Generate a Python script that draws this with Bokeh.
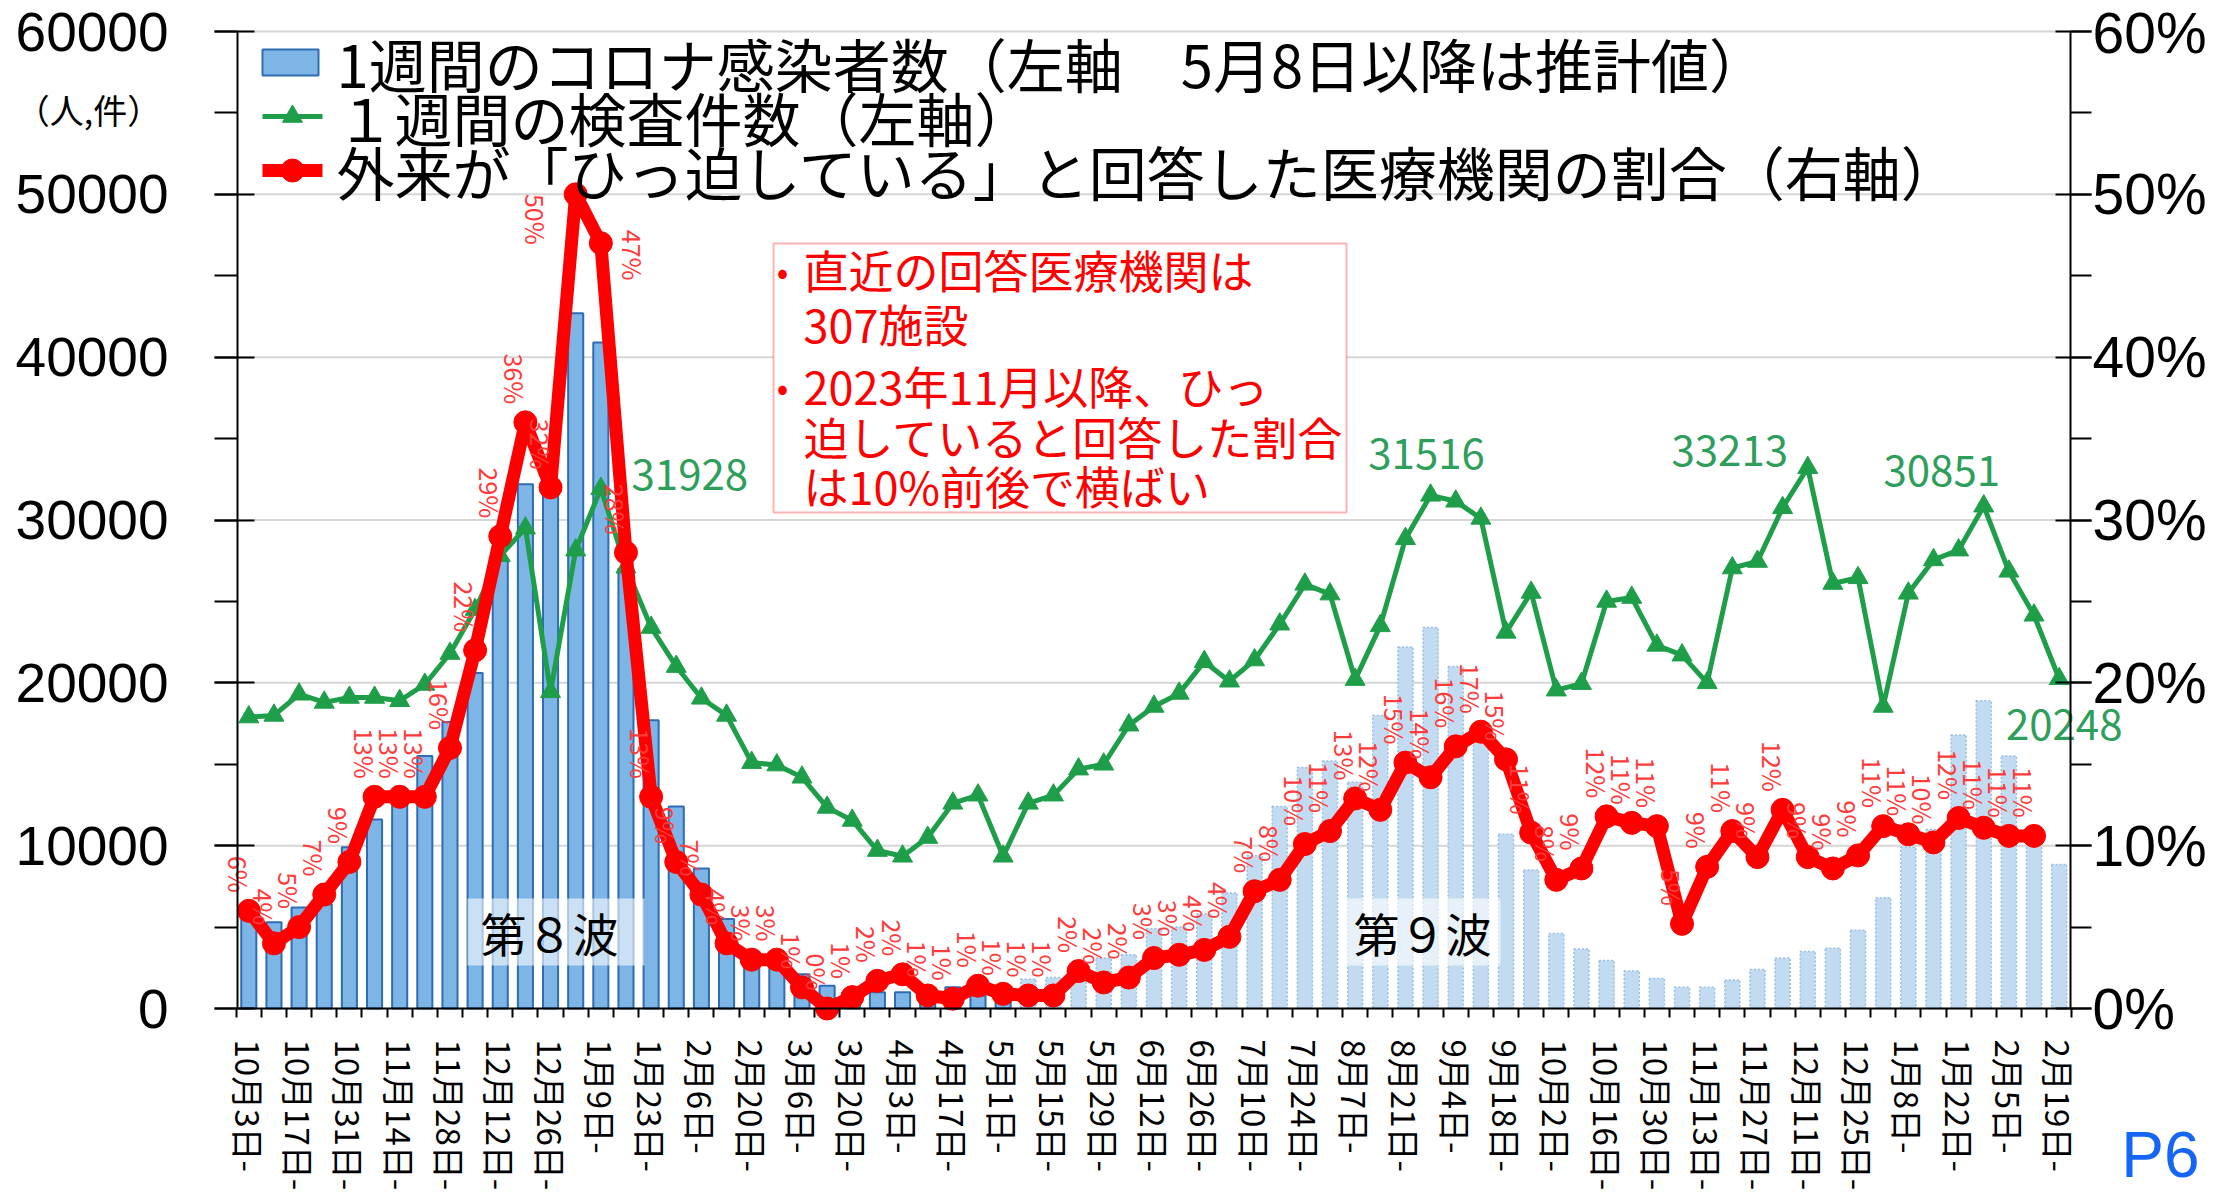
import math
from bokeh.plotting import figure
from bokeh.models import (Range1d, LinearAxis, SingleIntervalTicker, FixedTicker,
                          PrintfTickFormatter, BoxAnnotation, Label, ColumnDataSource)
from bokeh.core.properties import value
from bokeh.embed import file_html
from bokeh.resources import INLINE

# ---------------- data ----------------
weeks = ["10月3日", "10月10日", "10月17日", "10月24日", "10月31日", "11月7日", "11月14日", "11月21日",
         "11月28日", "12月5日", "12月12日", "12月19日", "12月26日", "1月2日", "1月9日", "1月16日",
         "1月23日", "1月30日", "2月6日", "2月13日", "2月20日", "2月27日", "3月6日", "3月13日",
         "3月20日", "3月27日", "4月3日", "4月10日", "4月17日", "4月24日", "5月1日", "5月8日",
         "5月15日", "5月22日", "5月29日", "6月5日", "6月12日", "6月19日", "6月26日", "7月3日",
         "7月10日", "7月17日", "7月24日", "7月31日", "8月7日", "8月14日", "8月21日", "8月28日",
         "9月4日", "9月11日", "9月18日", "9月25日", "10月2日", "10月9日", "10月16日", "10月23日",
         "10月30日", "11月6日", "11月13日", "11月20日", "11月27日", "12月4日", "12月11日", "12月18日",
         "12月25日", "1月1日", "1月8日", "1月15日", "1月22日", "1月29日", "2月5日", "2月12日", "2月19日"]

tick_labels = ["10月3日-", "10月17日-", "10月31日-", "11月14日-", "11月28日-", "12月12日-", "12月26日-",
               "1月9日-", "1月23日-", "2月6日-", "2月20日-", "3月6日-", "3月20日-", "4月3日-", "4月17日-",
               "5月1日-", "5月15日-", "5月29日-", "6月12日-", "6月26日-", "7月10日-", "7月24日-",
               "8月7日-", "8月21日-", "9月4日-", "9月18日-", "10月2日-", "10月16日-", "10月30日-",
               "11月13日-", "11月27日-", "12月11日-", "12月25日-", "1月8日-", "1月22日-", "2月5日-", "2月19日-"]

# weekly infections (left axis); from 5月8日 estimated values
cases = [5500, 5300, 6200, 6400, 9900, 11600, 12500, 15500, 17600, 20600,
         27600, 32200, 32000, 42700, 40900, 27000, 17700, 12400, 8600, 5500,
         3300, 2600, 2100, 1400, 1100, 1000, 1000, 1000, 1300, 800,
         900, 1800, 1900, 1700, 3100, 3300, 4900, 5000, 5800, 7100,
         9400, 12400, 14800, 15200, 13900, 18000, 22200, 23400, 21000, 16500,
         10700, 8500, 4600, 3650, 2950, 2300, 1850, 1300, 1300, 1750,
         2400, 3100, 3500, 3700, 4800, 6800, 9900, 11000, 16800, 18900,
         15500, 11200, 8850]

# weekly tests (left axis)
tests = [17900, 18000, 19300, 18800, 19100, 19100, 18900, 19900, 21800, 24500,
         27800, 29500, 19450, 28150, 31928, 27100, 23400, 21000, 19050, 18000,
         15100, 14950, 14200, 12350, 11550, 9700, 9350, 10500, 12600, 13100,
         9350, 12600, 13100, 14700, 15000, 17400, 18550, 19350, 21300, 20100,
         21400, 23600, 26050, 25450, 20200, 23500, 28850, 31516, 31150, 30100,
         23100, 25550, 19550, 19950, 25000, 25240, 22300, 21700, 20000, 27050,
         27450, 30750, 33213, 26100, 26450, 18550, 25500, 27550, 28150, 30851,
         26850, 24150, 20248]

# share of institutions answering "outpatient strained" (%), right axis
pct = [6, 4, 5, 7, 9, 13, 13, 13, 16, 22,
       29, 36, 32, 50, 47, 28, 13, 9, 7, 4,
       3, 3, 1.3, 0, 0.7, 1.7, 2.1, 0.8, 0.6, 1.4,
       0.9, 0.8, 0.8, 2.3, 1.6, 1.9, 3.1, 3.3, 3.6, 4.4,
       7.2, 7.9, 10.1, 10.9, 12.9, 12.2, 15.1, 14.2, 16.1, 17.0,
       15.3, 10.8, 7.9, 8.6, 11.8, 11.4, 11.2, 5.2, 8.7, 10.9,
       9.3, 12.2, 9.3, 8.6, 9.4, 11.2, 10.7, 10.2, 11.7, 11.1,
       10.6, 10.6]

tests_labeled = [14, 47, 62, 69, 72]

legend_texts = ["1週間のコロナ感染者数（左軸　5月8日以降は推計値）",
                "１週間の検査件数（左軸）",
                "外来が「ひっ迫している」と回答した医療機関の割合（右軸）"]
note_lines = ["直近の回答医療機関は", "307施設", "2023年11月以降、ひっ",
              "迫していると回答した割合", "は10%前後で横ばい"]

# ---------------- style ----------------
FONT = "Noto Sans CJK JP"
NUM_FONT = "Liberation Sans"
BLUE_FILL = "#7cb5e6"
BLUE_LINE = "#2e6db4"
EST_FILL = "#c3dbf1"
EST_LINE = "#98bfe4"
GREEN = "#1f9e4a"
GREEN_TXT = "#2e9e5b"
RED = "#ff0000"
PCT_TXT = "#ff3b3b"

W, H = 2219, 1192
X_LO, X_HI = -0.45, len(weeks) - 0.55      # plot-area x extent (data)
Y_MAX = 60000
PL, PT, PW, PH = 237, 31, 1833, 977         # plot area in page pixels


def dx(px):
    return X_LO + (px - PL) * (X_HI - X_LO) / PW


def dy(py):
    return (PT + PH - py) * Y_MAX / PH


p = figure(width=W, height=H, min_border=0, min_border_left=0, min_border_right=0,
           min_border_top=0, min_border_bottom=0,
           x_range=Range1d(dx(0), dx(W)), y_range=Range1d(dy(H), dy(0)),
           output_backend="svg", toolbar_location=None, title=None,
           background_fill_color="white", border_fill_color="white",
           outline_line_color=None)
p.grid.visible = False

# left axis
ax_l = p.yaxis[0]
ax_l.fixed_location = X_LO
ax_l.bounds = (0, Y_MAX)
ax_l.ticker = SingleIntervalTicker(interval=10000, num_minor_ticks=2)
ax_l.axis_line_color = "black"
ax_l.axis_line_width = 2
ax_l.major_tick_line_width = 2
ax_l.minor_tick_line_width = 2
ax_l.major_tick_line_color = "black"
ax_l.minor_tick_line_color = "black"
ax_l.major_tick_out = 23
ax_l.major_tick_in = 17
ax_l.minor_tick_out = 23
ax_l.minor_tick_in = 0
ax_l.major_label_standoff = 46
ax_l.major_label_text_font = NUM_FONT
ax_l.major_label_text_font_size = "55px"
ax_l.major_label_text_color = "black"

# right axis
p.extra_y_ranges = {"pct": Range1d(dy(H) / 1000, dy(0) / 1000)}
ax_r = LinearAxis(y_range_name="pct", fixed_location=X_HI, bounds=(0, Y_MAX / 1000),
                  ticker=SingleIntervalTicker(interval=10, num_minor_ticks=2),
                  formatter=PrintfTickFormatter(format="%d%%"))
ax_r.axis_line_color = "black"
ax_r.axis_line_width = 2
ax_r.major_tick_line_width = 2
ax_r.minor_tick_line_width = 2
ax_r.major_tick_out = 21
ax_r.major_tick_in = 15
ax_r.minor_tick_out = 21
ax_r.minor_tick_in = 0
ax_r.major_label_standoff = 1
ax_r.major_label_text_font = NUM_FONT
ax_r.major_label_text_font_size = "57px"
ax_r.major_label_text_color = "black"
p.add_layout(ax_r, "right")

# bottom axis
ax_b = p.xaxis[0]
ax_b.fixed_location = 0
ax_b.bounds = (X_LO, X_HI)
major_pos = list(range(0, len(weeks), 2))
ax_b.ticker = FixedTicker(ticks=major_pos, minor_ticks=[i - 0.5 for i in range(len(weeks) + 1)])
ax_b.major_label_overrides = {i: t for i, t in zip(major_pos, tick_labels)}
ax_b.major_label_orientation = -math.pi / 2
ax_b.axis_line_color = "black"
ax_b.axis_line_width = 2
ax_b.major_tick_out = 0
ax_b.major_tick_in = 0
ax_b.minor_tick_out = 9
ax_b.minor_tick_in = 0
ax_b.minor_tick_line_color = "black"
ax_b.minor_tick_line_width = 2
ax_b.major_label_standoff = 22
ax_b.major_label_text_font = FONT
ax_b.major_label_text_font_size = "33px"
ax_b.major_label_text_color = "black"

# horizontal grid lines at the left-axis major ticks
grid_vals = list(range(10000, Y_MAX + 1, 10000))
p.segment(x0=[X_LO] * len(grid_vals), x1=[X_HI] * len(grid_vals), y0=grid_vals, y1=grid_vals,
          line_color="#d6d6d6", line_width=2)

# ---------------- bars ----------------
split = weeks.index("5月8日")
idx = list(range(len(weeks)))
src_a = ColumnDataSource(dict(x=idx[:split], top=cases[:split]))
src_b = ColumnDataSource(dict(x=idx[split:], top=cases[split:]))
p.vbar(x="x", top="top", bottom=0, width=0.6, source=src_a, fill_color=BLUE_FILL,
       line_color=BLUE_LINE, line_width=2)
p.vbar(x="x", top="top", bottom=0, width=0.6, source=src_b, fill_color=EST_FILL,
       line_color=EST_LINE, line_width=1.5, line_dash="2 2")

# ---------------- tests line ----------------
p.line(idx, tests, line_color=GREEN, line_width=5)
p.scatter(idx, tests, marker="triangle", size=20, fill_color=GREEN, line_color=GREEN)

# ---------------- pct line ----------------
pidx = list(range(len(pct)))
p.line(pidx, pct, y_range_name="pct", line_color=RED, line_width=13)
p.scatter(pidx, pct, y_range_name="pct", marker="circle", size=23,
          fill_color=RED, line_color=RED)

pct_text = [f"{int(round(v))}%" for v in pct]
normal = [i for i in pidx if pct[i] < 45]
p.text([pidx[i] for i in normal], [pct[i] for i in normal], text=[pct_text[i] for i in normal],
       y_range_name="pct", angle=-math.pi / 2, text_align="right", text_baseline="middle",
       x_offset=-10, y_offset=-18, text_font=value(FONT), text_font_size="25px",
       text_color=PCT_TXT)
peaks = [i for i in pidx if pct[i] >= 45]
for i, (ox, oy) in zip(peaks, [(-40, 25), (32, 12)]):
    p.text([i], [pct[i]], text=[pct_text[i]], y_range_name="pct", angle=-math.pi / 2,
           text_align="center", text_baseline="middle", x_offset=ox, y_offset=oy,
           text_font=value(FONT), text_font_size="25px", text_color=PCT_TXT)

# labels of test counts
for i, (ox, oy) in zip(tests_labeled, [(89, -14), (-4, -42), (-78, -17), (-42, -36), (5, 46)]):
    p.text([i], [tests[i]], text=[str(tests[i])], text_align="center", text_baseline="middle",
           x_offset=ox, y_offset=oy, text_font=value(FONT), text_font_size="42px",
           text_color=GREEN_TXT)

# ---------------- manual legend ----------------
p.rect([dx(290)], [dy(62)], width=56, height=26, width_units="screen", height_units="screen",
       fill_color=BLUE_FILL, line_color=BLUE_LINE, line_width=2)
p.line([dx(262), dx(322)], [dy(116), dy(116)], line_color=GREEN, line_width=5)
p.scatter([dx(292)], [dy(116)], marker="triangle", size=20, fill_color=GREEN, line_color=GREEN)
p.line([dx(262), dx(322)], [dy(170), dy(170)], line_color=RED, line_width=13)
p.scatter([dx(292)], [dy(170)], marker="circle", size=23, fill_color=RED, line_color=RED)

# ---------------- annotations ----------------
p.add_layout(BoxAnnotation(left=dx(773), right=dx(1346), top=dy(243), bottom=dy(512),
                           fill_color="white", fill_alpha=1.0, line_color=RED, line_width=2))
p.add_layout(BoxAnnotation(left=dx(467), right=dx(644), top=dy(898), bottom=dy(965),
                           fill_color="white", fill_alpha=0.6, line_color=None))
p.add_layout(BoxAnnotation(left=dx(1344), right=dx(1500), top=dy(898), bottom=dy(965),
                           fill_color="white", fill_alpha=0.6, line_color=None))

for t, py in zip(legend_texts, [62, 116, 170]):
    p.add_layout(Label(x=dx(336), y=dy(py), text=t, text_font=FONT, text_font_size="58px",
                       text_color="black", text_align="left", text_baseline="middle"))

for t, py in zip(note_lines, [269, 323, 385, 436, 485]):
    p.add_layout(Label(x=dx(803), y=dy(py), text=t, text_font=FONT, text_font_size="45px",
                       text_color=RED, text_align="left", text_baseline="middle"))
for py in [269, 385]:
    p.add_layout(Label(x=dx(782), y=dy(py), text="•", text_font=FONT, text_font_size="34px",
                       text_color=RED, text_align="center", text_baseline="middle"))

p.add_layout(Label(x=dx(549), y=dy(931), text="第８波", text_font=FONT, text_font_size="46px",
                   text_color="black", text_align="center", text_baseline="middle"))
p.add_layout(Label(x=dx(1422), y=dy(931), text="第９波", text_font=FONT, text_font_size="46px",
                   text_color="black", text_align="center", text_baseline="middle"))

p.add_layout(Label(x=dx(88), y=dy(109), text="（人,件）", text_font=FONT, text_font_size="34px",
                   text_color="black", text_align="center", text_baseline="middle"))
p.add_layout(Label(x=dx(2160), y=dy(1154), text="P6", text_font=NUM_FONT,
                   text_font_size="64px", text_color="#1566f5", text_align="center",
                   text_baseline="middle"))

open("out.html", "w").write(file_html(p, INLINE))
